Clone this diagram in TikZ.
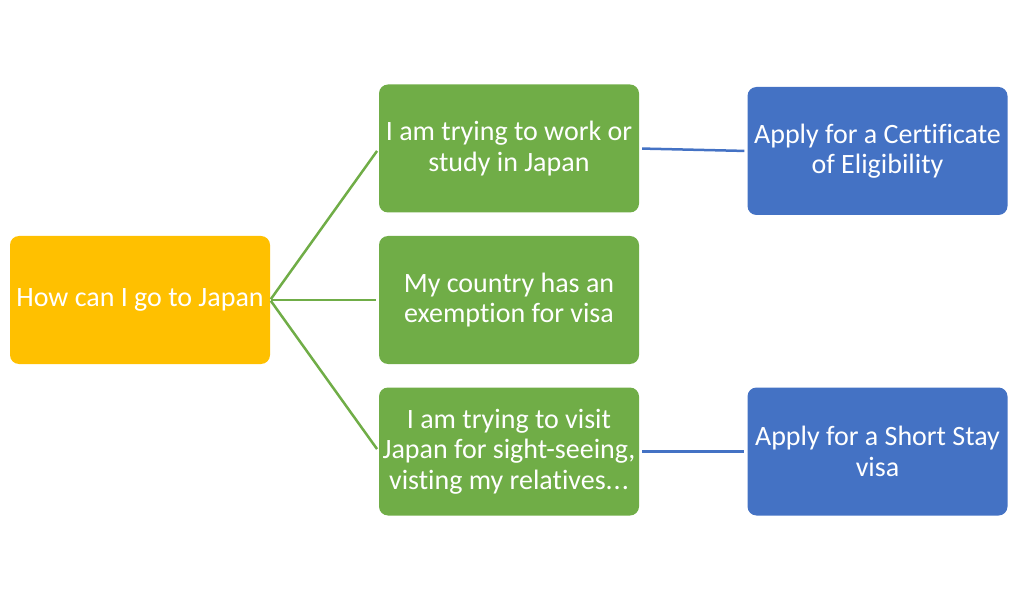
\documentclass[tikz,border=0pt]{standalone}
\usepackage{fontspec}
\setmainfont[Ligatures={NoCommon}]{Carlito}
\definecolor{rootyellow}{HTML}{FFC000}
\definecolor{stepgreen}{HTML}{70AD47}
\definecolor{applyblue}{HTML}{4472C4}
\tikzset{
  box/.style={rounded corners=9pt, minimum width=260pt, minimum height=128pt,
    text=white, align=center, font=\fontsize{28}{30.5}\selectfont, inner sep=2pt},
  link/.style={line width=2.5pt, shorten >=3pt, shorten <=1pt}
}
\begin{document}
\begin{tikzpicture}[x=1pt,y=1pt]
\useasboundingbox (0,0) rectangle (1024,600);
\node[box, fill=rootyellow] (root) at (140,300) {How can I go to Japan};
\node[box, fill=stepgreen] (work) at (509,451.5) {I am trying to work or\\study in Japan};
\node[box, fill=stepgreen] (exempt) at (509,300) {My country has an\\exemption for visa};
\node[box, fill=stepgreen] (visit) at (509,148.5) {I am trying to visit\\Japan for sight-seeing,\\visting my relatives.\kern1pt.\kern1pt.};
\node[box, fill=applyblue] (coe) at (877.5,449) {Apply for a Certificate\\of Eligibility};
\node[box, fill=applyblue] (short) at (877.5,148.5) {Apply for a Short Stay\\visa};
\draw[link, stepgreen] (root.east) -- (work.west);
\draw[link, stepgreen] (root.east) -- (exempt.west);
\draw[link, stepgreen] (root.east) -- (visit.west);
\draw[link, applyblue, shorten <=3pt] (work.east) -- (coe.west);
\draw[link, applyblue, shorten <=3pt] (visit.east) -- (short.west);
\end{tikzpicture}
\end{document}
